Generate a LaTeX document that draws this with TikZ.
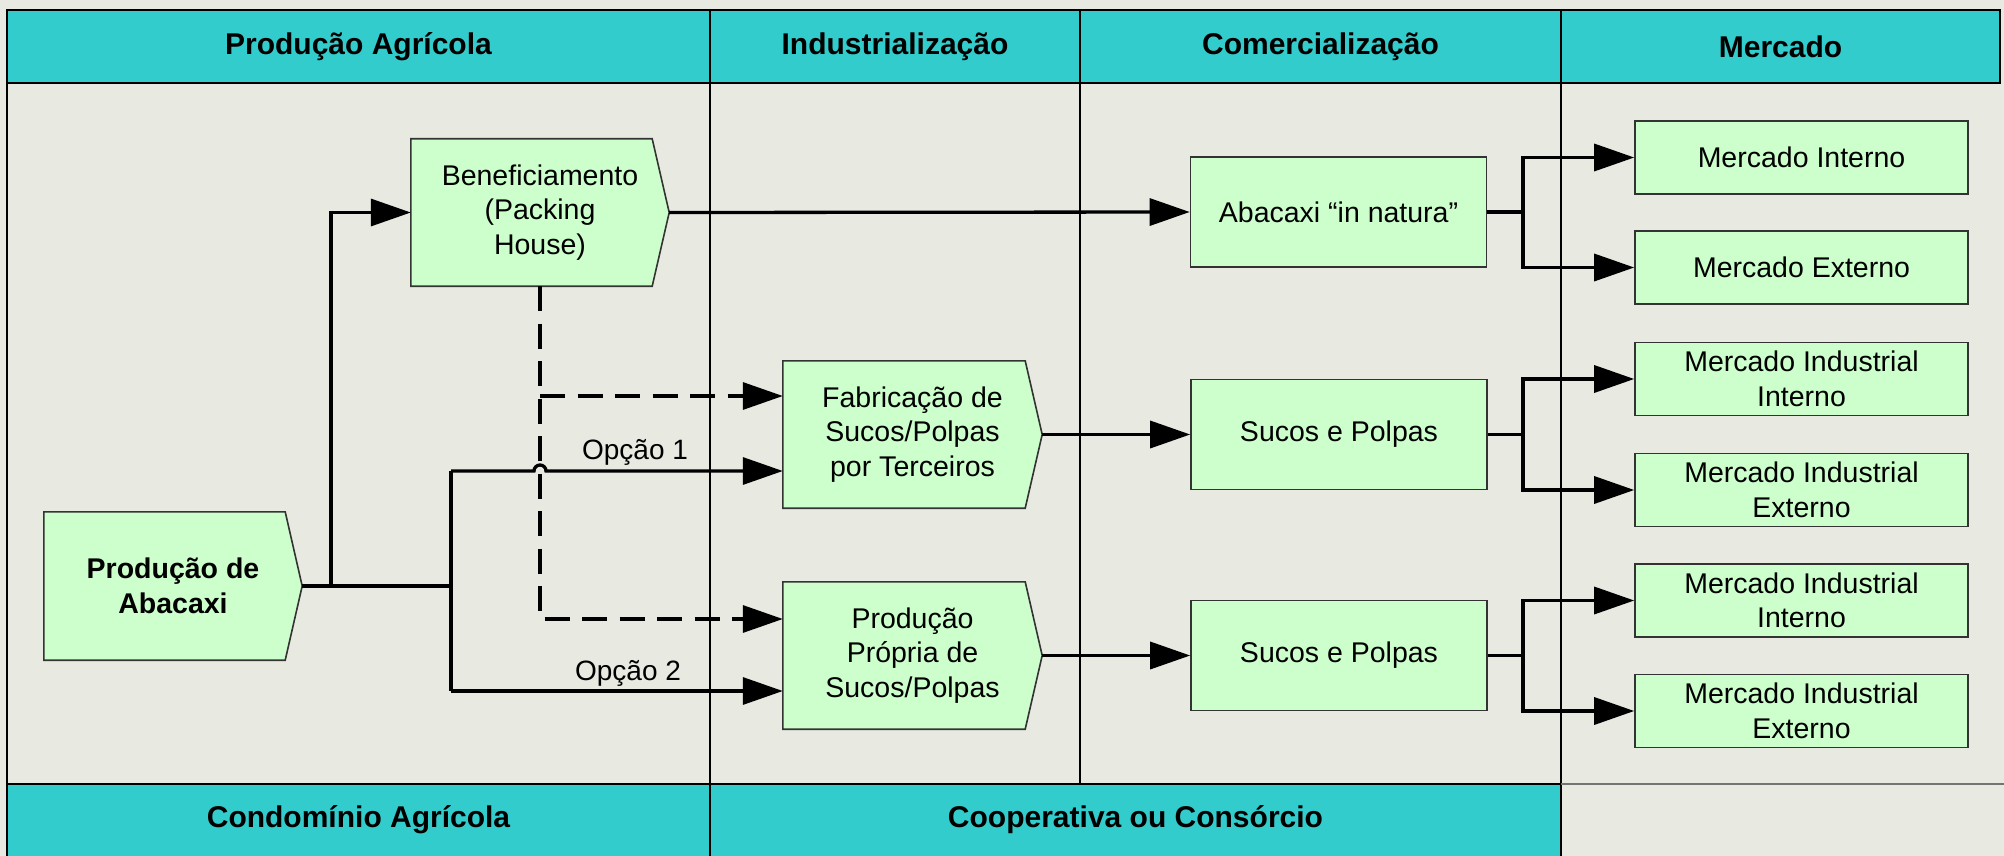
\documentclass[tikz,border=0pt]{standalone}
\usepackage{fontspec}
\setmainfont{Liberation Sans}
\usetikzlibrary{arrows.meta,backgrounds}
\definecolor{bgc}{RGB}{232,233,224}
\definecolor{hdr}{RGB}{51,204,204}
\definecolor{boxg}{RGB}{204,255,204}
\newcommand\chevshape[1]{%
  \begin{pgfonlayer}{background}
    \filldraw[chevline] (#1.north west) -- ([xshift=-17pt]#1.north east) -- (#1.east)
      -- ([xshift=-17pt]#1.south east) -- (#1.south west) -- cycle;
  \end{pgfonlayer}}
\begin{document}
\begin{tikzpicture}[x=1pt,y=-1pt,
  chevline/.style={draw=black!80, line width=1.6pt, fill=boxg},
  box/.style={draw=black!80, line width=1.6pt, fill=boxg, align=center, inner sep=0pt,
    font=\fontsize{28.5}{34.5}\selectfont},
  chevtxt/.style={align=center, inner sep=0pt, minimum width=259pt, minimum height=147pt,
    font=\fontsize{28.5}{34.5}\selectfont},
  mkt/.style={box, minimum width=333pt, minimum height=73pt},
  com/.style={box, minimum width=296pt, minimum height=110pt},
  plain/.style={line width=3.3pt},
  conn/.style={line width=3.3pt, -{Triangle[length=40pt,width=27pt]}},
  dashline/.style={line width=3.3pt, dash pattern=on 25pt off 12.5pt},
  lbl/.style={font=\fontsize{28}{33}\selectfont, inner sep=0pt},
  hdrtext/.style={font=\bfseries\fontsize{30}{36}\selectfont, inner sep=0pt},
  grid/.style={line width=1.6pt, draw=black}
]
\useasboundingbox (0,0) rectangle (2004,856);
\begin{pgfonlayer}{background}
  \fill[bgc] (0,0) rectangle (2004,856);
  \fill[hdr] (7,10) rectangle (2000,83);
  \fill[hdr] (7,784) rectangle (1561,856);
  \draw[grid] (7,10) rectangle (2000,83);
  \draw[grid] (7,83) -- (7,856);
  \draw[grid] (710,10) -- (710,856);
  \draw[grid] (1080,10) -- (1080,784);
  \draw[grid] (1561,10) -- (1561,856);
  \draw[grid] (7,784) -- (1561,784);
  \draw[line width=1.6pt, black!55] (1561,784) -- (2004,784);
\end{pgfonlayer}

% header / footer texts
\node[hdrtext] (h1) at (358.5,46.5) {Produção Agrícola};
\node[hdrtext] (h2) at (895,46.5) {Industrialização};
\node[hdrtext] (h3) at (1320.5,46.5) {Comercialização};
\node[hdrtext] (h4) at (1780.5,46.5) {Mercado};
\node[hdrtext] (f1) at (358.5,820) {Condomínio Agrícola};
\node[hdrtext] (f2) at (1135.5,820) {Cooperativa ou Consórcio};

% chevron nodes
\node[chevtxt, minimum width=258pt, minimum height=148pt, font=\bfseries\fontsize{28.5}{34.5}\selectfont] (prod) at (173,586) {Produção de\\Abacaxi};
\chevshape{prod}
\node[chevtxt, minimum width=258pt] (benef) at (540,212.5) {Beneficiamento\\(Packing\\House)};
\chevshape{benef}
\node[chevtxt] (fab) at (912.5,434.5) {Fabricação de\\Sucos/Polpas\\por Terceiros};
\chevshape{fab}
\node[chevtxt] (pp) at (912.5,655.5) {Produção\\Própria de\\Sucos/Polpas};
\chevshape{pp}

% commercial boxes
\node[com] (nat) at (1338.5,212) {Abacaxi “in natura”};
\node[com] (suc1) at (1339,434.5) {Sucos e Polpas};
\node[com] (suc2) at (1339,655.5) {Sucos e Polpas};

% market boxes
\node[mkt] (mi) at (1801.5,157.5) {Mercado Interno};
\node[mkt] (me) at (1801.5,267.5) {Mercado Externo};
\node[mkt] (mii1) at (1801.5,379) {Mercado Industrial\\Interno};
\node[mkt] (mie1) at (1801.5,490) {Mercado Industrial\\Externo};
\node[mkt] (mii2) at (1801.5,600.5) {Mercado Industrial\\Interno};
\node[mkt] (mie2) at (1801.5,711) {Mercado Industrial\\Externo};

% option labels
\node[lbl] (op1) at (635,452) {Opção 1};
\node[lbl] (op2) at (628,673) {Opção 2};

% coordinates
\coordinate (jb) at (331,586);
\coordinate (jn) at (451,586);
\coordinate (o1) at (451,471);
\coordinate (o2) at (451,691);
\coordinate (hop) at (534,471);
\coordinate (d1) at (540,396);
\coordinate (d2) at (540,619);
\coordinate (b1) at (1523,212);
\coordinate (b2) at (1523,434.5);
\coordinate (b3) at (1523,655.5);

% connectors
\draw[conn] (prod.east) -- (jb) |- (benef.west);
\draw[plain] (jb) -- (jn);
\draw[plain] (o1) -- (o2);
\draw[conn] (o1) -- (hop) arc[start angle=180, end angle=0, radius=6pt] -- (fab.west |- o1);
\draw[conn] (o2) -- (pp.west |- o2);
\draw[dashline, -{Triangle[length=40pt,width=27pt]}] (benef.south) |- (pp.west |- d2);
\draw[dashline, -{Triangle[length=40pt,width=27pt]}] (d1) -- (fab.west |- d1);

\draw[conn] (benef.east) -- (nat.west);
\draw[conn] (fab.east) -- (suc1.west);
\draw[conn] (pp.east) -- (suc2.west);

\draw[plain] (nat.east) -- (b1);
\draw[conn] (b1) |- (mi.west);
\draw[conn] (b1) |- (me.west);
\draw[plain] (suc1.east) -- (b2);
\draw[conn] (b2) |- (mii1.west);
\draw[conn] (b2) |- (mie1.west);
\draw[plain] (suc2.east) -- (b3);
\draw[conn] (b3) |- (mii2.west);
\draw[conn] (b3) |- (mie2.west);
\end{tikzpicture}
\end{document}
